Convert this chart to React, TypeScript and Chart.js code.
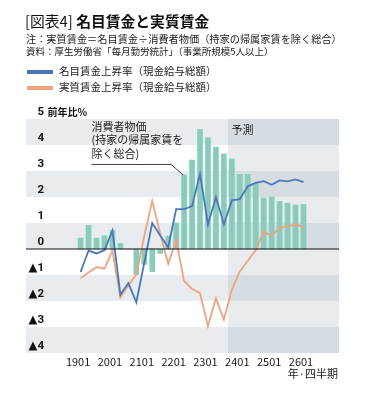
import React, { useEffect, useRef } from 'react';
import { Chart, registerables } from 'chart.js';

Chart.register(...registerables);

// Quarter categories (YYQ)
const quarters = [
  '1901', '1902', '1903', '1904',
  '2001', '2002', '2003', '2004',
  '2101', '2102', '2103', '2104',
  '2201', '2202', '2203', '2204',
  '2301', '2302', '2303', '2304',
  '2401', '2402', '2403', '2404',
  '2501', '2502', '2503', '2504',
  '2601',
];

// 消費者物価（持家の帰属家賃を除く総合） y/y %
const cpi = [
  0.42, 0.91, 0.42, 0.51, 0.72, 0.22, 0.0, -0.98,
  -0.59, -0.87, -0.17, 0.5, 1.0, 2.85, 3.42, 4.6,
  4.28, 3.92, 3.66, 3.46, 2.87, 2.87, 2.52, 1.96,
  2.0, 1.83, 1.76, 1.69, 1.71,
];

// 名目賃金上昇率（現金給与総額）
const nominal = [
  -0.88, -0.06, -0.17, -0.05, 0.71, -1.75, -1.31, -2.05,
  -0.53, 1.0, 0.52, 0.06, 1.53, 1.53, 1.65, 2.88,
  0.95, 1.99, 0.95, 1.87, 1.92, 2.41, 2.54, 2.61,
  2.47, 2.64, 2.6, 2.68, 2.57,
];

// 実質賃金上昇率（現金給与総額）
const real = [
  -1.12, -0.9, -0.7, -0.75, -0.06, -1.86, -1.4, -0.98,
  0.5, 1.85, 0.6, -0.57, 0.33, -1.23, -1.53, -1.7,
  -2.97, -1.89, -2.72, -1.56, -0.86, -0.45, -0.04, 0.66,
  0.51, 0.82, 0.87, 0.95, 0.84,
];

const legendLabels = ['名目賃金上昇率（現金給与総額）', '実質賃金上昇率（現金給与総額）'];
const annotationLines = ['消費者物価', '(持家の帰属家賃を', '除く総合)'];
const annotatedIndex = 13;
const forecastStart = 18.5; // between 2303 and 2304
const forecastLabel = '予測';
const yUnit = '前年比%';
const xTitle = '年·四半期';
const yMin = -4;
const yMax = 5;

const BLUE = '#4a78b9';
const ORANGE = '#eda47f';
const TEAL = '#88cdbc';
const BAND = '#e9ecef';
const BAND_DARK = '#d5dde2';
const CJK = "'Noto Sans CJK JP', sans-serif";

const backgroundPlugin = {
  id: 'bands',
  beforeDraw(chart: any) {
    const { ctx, chartArea, scales } = chart;
    const { left, right } = chartArea;
    const y = scales.y;
    const fx = scales.x.getPixelForValue(forecastStart);
    ctx.save();
    for (let v = yMin; v < yMax; v++) {
      const top = y.getPixelForValue(v + 1);
      const bottom = y.getPixelForValue(v);
      const shaded = ((v % 2) + 2) % 2 === 0;
      if (shaded) {
        ctx.fillStyle = BAND;
        ctx.fillRect(left, top, fx - left, bottom - top);
      }
      ctx.fillStyle = shaded ? BAND_DARK : BAND;
      ctx.fillRect(fx, top, right - fx, bottom - top);
    }
    ctx.restore();
  },
};

const overlayPlugin = {
  id: 'overlay',
  afterDatasetsDraw(chart: any) {
    const { ctx, chartArea, scales } = chart;
    const { left, right, top, bottom } = chartArea;
    const x = scales.x;
    const y = scales.y;
    ctx.save();
    // zero line
    const y0 = y.getPixelForValue(0);
    ctx.strokeStyle = '#111';
    ctx.lineWidth = 1.2;
    ctx.beginPath();
    ctx.moveTo(left, y0);
    ctx.lineTo(right, y0);
    ctx.stroke();

    // annotation
    ctx.fillStyle = '#222';
    ctx.font = `11px ${CJK}`;
    ctx.textAlign = 'left';
    ctx.textBaseline = 'middle';
    const ax = left + 65.5;
    annotationLines.forEach((t, k) => {
      ctx.fillText(t, ax, top + 7.5 + k * 13.7);
    });
    const bx = x.getPixelForValue(annotatedIndex) - 1;
    const by = y.getPixelForValue(cpi[annotatedIndex]);
    const ly = top + 45.5;
    ctx.strokeStyle = '#444';
    ctx.lineWidth = 1;
    ctx.beginPath();
    ctx.moveTo(ax, ly);
    ctx.lineTo(bx - 12, ly);
    ctx.lineTo(bx, by);
    ctx.stroke();

    // forecast label
    const fx = x.getPixelForValue(forecastStart);
    ctx.fillText(forecastLabel, fx + 3.5, top + 10.5);

    // x axis unit (right aligned under the ticks)
    ctx.fillStyle = '#1a1a1a';
    ctx.textAlign = 'right';
    ctx.fillText(xTitle, right - 1, bottom + 20.5);

    // y unit
    ctx.textAlign = 'left';
    ctx.font = `bold 10px ${CJK}`;
    ctx.fillStyle = '#111';
    ctx.fillText(yUnit, left + 21.5, y.getPixelForValue(yMax) - 7);
    ctx.restore();
  },
};

export default function App() {
  const ref = useRef<HTMLCanvasElement>(null);

  useEffect(() => {
    document.body.style.margin = '0';
    const chart = new Chart(ref.current as HTMLCanvasElement, {
      type: 'bar',
      data: {
        datasets: [
          {
            type: 'line',
            label: legendLabels[0],
            data: nominal.map((v, i) => ({ x: i, y: v })),
            borderColor: BLUE,
            borderWidth: 1.8,
            pointRadius: 0,
            tension: 0,
            fill: false,
          },
          {
            type: 'line',
            label: legendLabels[1],
            data: real.map((v, i) => ({ x: i, y: v })),
            borderColor: ORANGE,
            borderWidth: 1.8,
            pointRadius: 0,
            tension: 0,
            fill: false,
          },
          {
            type: 'bar',
            label: annotationLines.join(''),
            data: cpi.map((v, i) => ({ x: i, y: v })),
            backgroundColor: TEAL,
            borderWidth: 0,
            barThickness: 5,
          },
        ],
      } as any,
      options: {
        responsive: false,
        animation: false,
        devicePixelRatio: 1,
        layout: { padding: { left: 26, right: 26, top: 119, bottom: 27.6 } },
        plugins: {
          legend: { display: false },
          tooltip: { enabled: false },
        },
        scales: {
          x: {
            type: 'linear',
            min: -4.4,
            max: 30,
            grid: { display: false, drawTicks: false },
            border: { display: false },
            afterBuildTicks: (s: any) => {
              s.ticks = quarters
                .map((_, i) => ({ value: i }))
                .filter((t) => t.value % 4 === 0);
            },
            ticks: {
              autoSkip: false,
              maxRotation: 0,
              padding: 3.2,
              labelOffset: -2.5,
              color: '#1a1a1a',
              font: { family: CJK, size: 11, lineHeight: 1 },
              callback: (v: any) => quarters[v] ?? '',
            },
          },
          y: {
            min: yMin,
            max: yMax,
            afterFit: (s: any) => {
              s.width = 0;
            },
            grid: { display: false, drawTicks: false },
            border: { display: false },
            ticks: {
              stepSize: 1,
              mirror: true,
              crossAlign: 'far',
              padding: 2.6,
              labelOffset: -7,
              color: '#111',
              font: { family: "Roboto, 'DejaVu Sans', sans-serif", size: 11.5, weight: 'bold' },
              callback: (v: any) => (v < 0 ? '▲' + -v : String(v)),
            },
          },
        },
      } as any,
      plugins: [backgroundPlugin, overlayPlugin],
    });
    return () => chart.destroy();
  }, []);

  return (
    <div
      style={{
        position: 'absolute',
        left: 0,
        top: 0,
        width: 365,
        height: 398,
        background: '#fff',
        fontFamily: CJK,
        color: '#222',
      }}
    >
      <canvas
        ref={ref}
        width={365}
        height={398}
        style={{ position: 'absolute', left: 0, top: 0, width: 365, height: 398 }}
      />
      <div style={{ position: 'absolute', left: 25, top: 13.6, fontSize: 14.8, lineHeight: 1, whiteSpace: 'nowrap', color: '#111' }}>
        [図表4] <b>名目賃金と実質賃金</b>
      </div>
      <div style={{ position: 'absolute', left: 26, top: 34.4, fontSize: 10.2, lineHeight: 1, whiteSpace: 'nowrap' }}>
        注：実質賃金＝名目賃金÷消費者物価（持家の帰属家賃を除く総合）
      </div>
      <div style={{ position: 'absolute', left: 26, top: 47.4, fontSize: 9.5, lineHeight: 1, whiteSpace: 'nowrap' }}>
        資料：厚生労働省「毎月勤労統計」（事業所規模5人以上）
      </div>
      <div style={{ position: 'absolute', left: 27, top: 69.5, width: 26, height: 4, background: BLUE }} />
      <div style={{ position: 'absolute', left: 59, top: 65.5, fontSize: 10.5, lineHeight: 1, whiteSpace: 'nowrap' }}>
        {legendLabels[0]}
      </div>
      <div style={{ position: 'absolute', left: 27, top: 86, width: 26, height: 4, background: ORANGE }} />
      <div style={{ position: 'absolute', left: 59, top: 82.3, fontSize: 10.5, lineHeight: 1, whiteSpace: 'nowrap' }}>
        {legendLabels[1]}
      </div>
    </div>
  );
}
